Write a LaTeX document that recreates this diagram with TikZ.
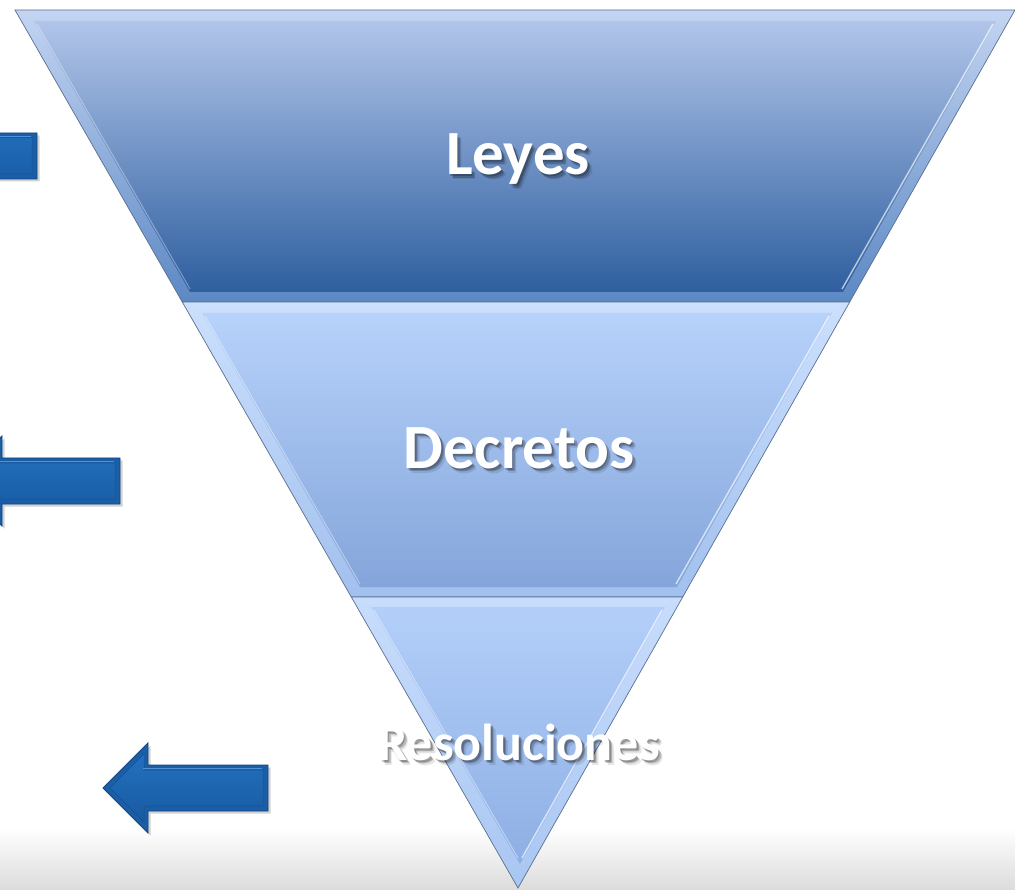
\documentclass[tikz,border=0pt]{standalone}
\usepackage{fontspec}
\setmainfont{Carlito}
\usetikzlibrary{calc,shadows,fadings}
\definecolor{aTop}{HTML}{B1C5EA}
\definecolor{aBot}{HTML}{2F5F9F}
\definecolor{aEdgeTop}{HTML}{C3D5F2}
\definecolor{aEdgeBot}{HTML}{5C88C4}
\definecolor{bTop}{HTML}{B7D2FB}
\definecolor{bBot}{HTML}{84A5DA}
\definecolor{bEdgeTop}{HTML}{CCE0FD}
\definecolor{bEdgeBot}{HTML}{A2C0EE}
\definecolor{cTop}{HTML}{B3CFF9}
\definecolor{cBot}{HTML}{8EAFE4}
\definecolor{cEdgeTop}{HTML}{C8DDFC}
\definecolor{cEdgeBot}{HTML}{A9C6F2}
\definecolor{bandLine}{HTML}{5A6F8E}
\definecolor{arrOut}{HTML}{1B5EA6}
\definecolor{arrLine}{HTML}{0E4585}
\definecolor{arrInTop}{HTML}{2470BD}
\definecolor{arrInBot}{HTML}{175AA2}
\definecolor{arrHi}{HTML}{4F92D8}
\tikzset{
  bandouter/.style={draw=bandLine, line width=0.7pt, line join=miter},
  hiline/.style={draw=white, draw opacity=0.65, line width=1.4pt},
  lbl/.style={text=white, anchor=base},
  bigfont/.style={font=\fontsize{63}{70}\selectfont\bfseries},
  midfont/.style={font=\fontsize{52}{60}\selectfont\bfseries},
  arrowouter/.style={fill=arrOut, draw=arrLine, line width=0.8pt,
    drop shadow={opacity=0.35, shadow xshift=2.5pt, shadow yshift=-2.5pt}},
  arrowinner/.style={top color=arrInTop, bottom color=arrInBot, draw=arrLine, draw opacity=0.5, line width=0.5pt},
}
% text-shaped masks used for the soft text shadows
\begin{tikzfadingfrompicture}[name=fLeyes]
  \useasboundingbox (-200pt,-60pt) rectangle (200pt,60pt);
  \node[text=transparent!0, anchor=base, inner sep=0pt, bigfont] at (0,0) {Leyes};
\end{tikzfadingfrompicture}
\begin{tikzfadingfrompicture}[name=fDecretos]
  \useasboundingbox (-200pt,-60pt) rectangle (200pt,60pt);
  \node[text=transparent!0, anchor=base, inner sep=0pt, bigfont] at (0,0) {Decretos};
\end{tikzfadingfrompicture}
\begin{tikzfadingfrompicture}[name=fResol]
  \useasboundingbox (-200pt,-60pt) rectangle (200pt,60pt);
  \node[text=transparent!0, anchor=base, inner sep=0pt, midfont] at (0,0) {Resoluciones};
\end{tikzfadingfrompicture}
\newcommand\TextShadow[3]{%
  \foreach \dx/\dy/\op in {1.5/2/0.22,3/3.5/0.2,4.5/5/0.1}{%
    \fill[black, opacity=\op, path fading=#1, fit fading=false,
          fading transform={shift={({#2+\dx},{#3+\dy})}}]
      ({#2+\dx-200},{#3+\dy-60}) rectangle ({#2+\dx+200},{#3+\dy+60});}}
\newcommand\BlueArrow[3]{%
  \begin{scope}[shift={(#1,#2)}]
    \path[arrowouter] (#3,-23) -- (0,-23) -- (0,-45) -- (-45,0) -- (0,45) -- (0,23) -- (#3,23) -- cycle;
    \path[arrowinner] ({#3-5},-18) -- (-4,-18) -- (-4,-34) -- (-38,0) -- (-4,34) -- (-4,18) -- ({#3-5},18) -- cycle;
    \draw[arrHi, line width=1.2pt] ({#3-6},-19.5) -- (-5,-19.5);
  \end{scope}}
\begin{document}
\begin{tikzpicture}[x=1pt,y=-1pt]
\useasboundingbox (0,0) rectangle (1015,890);
\fill[white] (0,0) rectangle (1015,890);
\shade[top color=white, bottom color=black!14] (0,828) rectangle (1015,890);
\clip (0,0) rectangle (1015,890);

% arrows
\BlueArrow{-83}{156}{120}
\BlueArrow{2}{481}{118}
\BlueArrow{148}{788}{120}

% triangle corners
\coordinate (TL) at (15,10);
\coordinate (TR) at (1015,10);
\coordinate (AP) at (518,888);
\coordinate (L1) at ($(TL)!0.3326!(AP)$);
\coordinate (R1) at ($(TR)!0.3326!(AP)$);
\coordinate (L2) at ($(TL)!0.6686!(AP)$);
\coordinate (R2) at ($(TR)!0.6686!(AP)$);

% band 1 (Leyes)
\path[bandouter, top color=aEdgeTop, bottom color=aEdgeBot] (TL) -- (TR) -- (R1) -- (L1) -- cycle;
\path[top color=aTop, bottom color=aBot] (34,21) -- (996,21) -- (843,292) -- (190,292) -- cycle;
\draw[hiline] (993,24) -- (842,289);
\draw[white, opacity=0.35, line width=1pt] (37,24) -- (190,289);

% band 2 (Decretos)
\path[bandouter, top color=bEdgeTop, bottom color=bEdgeBot] (L1) -- (R1) -- (R2) -- (L2) -- cycle;
\path[top color=bTop, bottom color=bBot] (202,313) -- (832,313) -- (677,587) -- (360,587) -- cycle;
\draw[hiline] (829,316) -- (676,584);
\draw[white, opacity=0.4, line width=1pt] (205,316) -- (360,584);

% band 3 (Resoluciones)
\path[bandouter, top color=cEdgeTop, bottom color=cEdgeBot] (L2) -- (R2) -- (AP) -- cycle;
\path[top color=cTop, bottom color=cBot] (371,607) -- (665,607) -- (520,864) -- cycle;
\draw[hiline] (662,610) -- (522,858);
\draw[white, opacity=0.4, line width=1pt] (374,610) -- (518,858);

% soft text shadows
\TextShadow{fLeyes}{518}{175}
\TextShadow{fDecretos}{519}{468}
\TextShadow{fResol}{519}{760}

% labels
\node[lbl, bigfont] (leyes) at (518,175) {Leyes};
\node[lbl, bigfont] (decretos) at (519,468) {Decretos};
\node[lbl, midfont] (resol) at (519,760) {Resoluciones};
\end{tikzpicture}
\end{document}
